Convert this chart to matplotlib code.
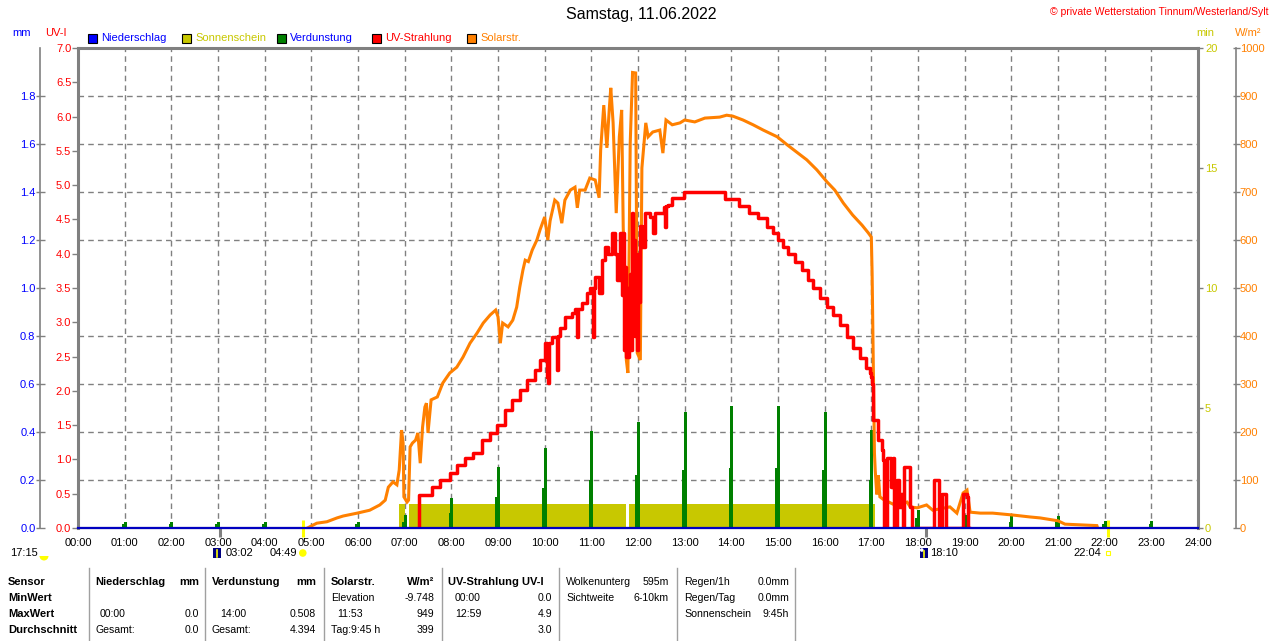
import matplotlib
matplotlib.use('Agg')
import matplotlib.pyplot as plt
import numpy as np
from matplotlib.patches import Rectangle, Circle, Wedge

plt.rcParams['font.family'] = ['Liberation Sans', 'DejaVu Sans']


def hrs(ts):
    return [int(t[:2]) + int(t[3:]) / 60.0 for t in ts]


# ---------------- data ----------------
hour_labels = ["%02d:00" % h for h in range(25)]

solar_time = ["04:55", "05:07", "05:20", "05:33", "05:41", "05:59", "06:15", "06:28", "06:35", "06:39",
              "06:45", "06:50", "06:53", "06:56", "06:58", "06:59", "07:03", "07:05", "07:07", "07:10",
              "07:14", "07:17", "07:20", "07:23", "07:26", "07:28", "07:30", "07:34", "07:42", "07:49",
              "07:58", "08:07", "08:15", "08:24", "08:33", "08:41", "08:50", "08:57", "09:00", "09:03",
              "09:06", "09:13", "09:19", "09:24", "09:28", "09:32", "09:35", "09:39", "09:44", "09:50",
              "09:54", "10:00", "10:04", "10:07", "10:13", "10:17", "10:22", "10:26", "10:33", "10:39",
              "10:42", "10:45", "10:52", "10:58", "11:05", "11:10", "11:12", "11:16", "11:20", "11:23",
              "11:25", "11:28", "11:32", "11:36", "11:39", "11:41", "11:43", "11:45", "11:47", "11:50",
              "11:53", "11:57", "11:59", "12:03", "12:05", "12:10", "12:13", "12:19", "12:28", "12:32",
              "12:36", "12:44", "12:54", "13:00", "13:13", "13:26", "13:45", "13:54", "14:02", "14:15",
              "14:28", "14:41", "14:59", "15:12", "15:24", "15:37", "15:50", "16:03", "16:13", "16:24",
              "16:36", "16:48", "16:56", "17:00", "17:01", "17:02", "17:04", "17:05", "17:07", "17:09",
              "17:11", "17:15", "17:30", "17:46", "17:50", "17:59", "18:11", "18:19", "18:41", "18:50",
              "18:58", "19:03", "19:07", "19:20", "19:36", "20:02", "20:24", "20:37", "21:00", "21:09",
              "21:50", "21:51"]
solar_wm2 = [0, 10, 13, 21, 25, 31, 37, 48, 58, 85,
             96, 90, 121, 204, 177, 65, 54, 58, 169, 177,
             183, 198, 135, 210, 252, 260, 198, 267, 273, 302,
             323, 335, 356, 385, 406, 427, 444, 454, 440, 385,
             427, 419, 433, 460, 502, 537, 558, 555, 579, 600,
             621, 648, 600, 640, 683, 677, 635, 683, 704, 710,
             667, 704, 704, 729, 725, 688, 788, 881, 792, 871,
             917, 844, 656, 815, 871, 627, 500, 350, 323, 802,
             949, 948, 365, 350, 750, 844, 815, 825, 829, 781,
             850, 840, 844, 850, 846, 854, 856, 860, 858, 850,
             840, 829, 815, 798, 783, 767, 746, 721, 704, 677,
             652, 631, 615, 606, 531, 400, 156, 120, 70, 110,
             65, 60, 48, 54, 44, 42, 48, 37, 44, 31,
             73, 79, 33, 31, 31, 27, 23, 21, 15, 8,
             5, 0]

uv_time = ["07:18", "07:19", "07:35", "07:45", "07:58", "08:07", "08:18", "08:28", "08:39", "08:50",
           "08:59", "09:09", "09:18", "09:28", "09:37", "09:48", "09:54", "10:00", "10:03", "10:04",
           "10:06", "10:09", "10:16", "10:17", "10:20", "10:26", "10:35", "10:39", "10:42", "10:43",
           "10:48", "10:54", "10:58", "11:02", "11:03", "11:05", "11:10", "11:14", "11:18", "11:21",
           "11:27", "11:30", "11:33", "11:37", "11:39", "11:41", "11:42", "11:43", "11:45", "11:46",
           "11:47", "11:48", "11:50", "11:51", "11:52", "11:54", "11:55", "11:56", "11:57", "11:59",
           "12:00", "12:01", "12:03", "12:05", "12:09", "12:15", "12:19", "12:22", "12:31", "12:33",
           "12:35", "12:36", "12:39", "12:44", "12:57", "12:59", "13:49", "13:52", "14:10", "14:23",
           "14:34", "14:46", "14:54", "15:00", "15:06", "15:13", "15:22", "15:31", "15:39", "15:45",
           "15:54", "16:03", "16:11", "16:20", "16:29", "16:36", "16:45", "16:53", "16:58", "17:00",
           "17:01", "17:02", "17:05", "17:09", "17:14", "17:15", "17:16", "17:20", "17:25", "17:28",
           "17:29", "17:33", "17:36", "17:38", "17:41", "17:42", "17:48", "17:50", "17:52", "18:21",
           "18:26", "18:27", "18:31", "18:35", "18:36", "18:58", "19:03", "19:04", "19:05"]
uv_index = [0.0, 0.48, 0.6, 0.7, 0.8, 0.92, 1.02, 1.09, 1.28, 1.39,
            1.5, 1.72, 1.87, 2.01, 2.16, 2.3, 2.45, 2.7, 2.2, 2.11,
            2.7, 2.79, 2.3, 2.8, 2.92, 3.08, 3.13, 3.2, 2.79, 3.2,
            3.28, 3.42, 3.5, 2.79, 3.5, 3.66, 3.42, 3.91, 4.1, 4.0,
            4.3, 4.0, 3.62, 4.3, 3.4, 4.3, 2.6, 3.8, 2.5, 3.5,
            2.5, 3.2, 3.7, 2.6, 4.6, 3.0, 4.2, 2.8, 3.8, 2.6,
            4.0, 3.3, 4.4, 4.1, 4.6, 4.54, 4.3, 4.6, 4.6, 4.68,
            4.39, 4.7, 4.71, 4.81, 4.81, 4.9, 4.9, 4.8, 4.7, 4.59,
            4.52, 4.39, 4.3, 4.2, 4.1, 4.0, 3.88, 3.76, 3.62, 3.5,
            3.35, 3.22, 3.11, 2.96, 2.79, 2.62, 2.48, 2.33, 2.26, 2.2,
            2.1, 1.58, 1.58, 1.28, 1.14, 0.99, 0.0, 1.02, 0.6, 1.02,
            0.0, 0.7, 0.3, 0.5, 0.0, 0.89, 0.89, 0.3, 0.0, 0.7,
            0.7, 0.0, 0.5, 0.5, 0.0, 0.5, 0.45, 0.0, 0.0]

evap_hour = list(range(1, 24))
evap_top = [0.026, 0.026, 0.026, 0.026, 0.0, 0.026, 0.054, 0.125, 0.254, 0.333, 0.404, 0.44,
            0.483, 0.508, 0.508, 0.483, 0.41, 0.075, 0.054, 0.05, 0.05, 0.03, 0.03]
evap_low = [0.016, 0.016, 0.016, 0.016, 0.0, 0.016, 0.025, 0.063, 0.13, 0.167, 0.2, 0.22,
            0.24, 0.25, 0.25, 0.24, 0.2, 0.04, 0.025, 0.025, 0.025, 0.016, 0.016]

sun_start = ["06:53", "07:06", "11:48"]
sun_end = ["07:00", "11:45", "17:05"]
sun_minutes = [1.0, 1.0, 1.0]

rain_time = ["00:00", "24:00"]
rain_mm = [0.0, 0.0]

mm_ticks = [0.0, 0.2, 0.4, 0.6, 0.8, 1.0, 1.2, 1.4, 1.6, 1.8]
uv_ticks = [0.0, 0.5, 1.0, 1.5, 2.0, 2.5, 3.0, 3.5, 4.0, 4.5, 5.0, 5.5, 6.0, 6.5, 7.0]
min_ticks = [0, 5, 10, 15, 20]
wm2_ticks = list(range(0, 1001, 100))

# ---------------- colours ----------------
C_BLUE = '#0000ff'
C_SUN = '#c8c800'
C_GREEN = '#008000'
C_RED = '#ff0000'
C_ORANGE = '#ff8000'
C_GRAY = '#808080'

W, H = 1280, 641
fig = plt.figure(figsize=(12.8, 6.41), dpi=100)
fig.patch.set_facecolor('white')
rect = [78 / W, (H - 528) / H, 1120 / W, 480 / H]
PX = 72.0 / 100.0  # points per pixel

# base axes: sunshine (min) + grid + frame
ax_sun = fig.add_axes(rect)
ax_sun.set_xlim(0, 24)
ax_sun.set_ylim(0, 20)
ax_sun.set_xticks(range(25))
ax_sun.set_xticklabels(hour_labels)
ax_sun.set_axisbelow(True)
ax_sun.grid(axis='x', which='major', color=C_GRAY, lw=1, ls=(0, (4, 3)))
ax_sun.tick_params(axis='x', length=0, pad=7, labelsize=8, labelcolor='black')
for s in ['top', 'left', 'right']:
    ax_sun.spines[s].set_color(C_GRAY)
    ax_sun.spines[s].set_linewidth(2.2)
ax_sun.spines['bottom'].set_color(C_GRAY)
ax_sun.spines['bottom'].set_linewidth(1.5)

s0 = np.array(hrs(sun_start))
s1 = np.array(hrs(sun_end))
ax_sun.bar(s0, sun_minutes, width=s1 - s0, align='edge', color=C_SUN, lw=0, zorder=2)


def clean(ax):
    for s in ax.spines.values():
        s.set_visible(False)


# evaporation (mm)
ax_mm = ax_sun.twinx()
clean(ax_mm)
ax_mm.set_ylim(0, 2.0)
ax_mm.yaxis.set_ticks_position('left')
ax_mm.yaxis.set_label_position('left')
ax_mm.spines['left'].set_visible(True)
ax_mm.spines['left'].set_position(('outward', 38 * PX))
ax_mm.spines['left'].set_color(C_GRAY)
ax_mm.spines['left'].set_linewidth(1.2)
ax_mm.set_yticks(mm_ticks)
ax_mm.set_yticklabels(["%.1f" % v for v in mm_ticks])
ax_mm.tick_params(axis='y', direction='inout', length=9 * PX, width=1, color=C_GRAY,
                  labelsize=8, labelcolor=C_BLUE, pad=0)
eh = np.array(evap_hour, dtype=float)
ax_mm.bar(eh - 0.01, evap_low, width=0.095, color=C_GREEN, lw=0)
ax_mm.bar(eh + 0.01, evap_top, width=0.06, color=C_GREEN, lw=0)

# solar radiation (W/m2)
ax_sol = ax_sun.twinx()
clean(ax_sol)
ax_sol.set_ylim(0, 1000)
ax_sol.spines['right'].set_visible(True)
ax_sol.spines['right'].set_position(('outward', 37.5 * PX))
ax_sol.spines['right'].set_color(C_GRAY)
ax_sol.spines['right'].set_linewidth(1.2)
ax_sol.set_yticks(wm2_ticks)
ax_sol.set_yticklabels([str(v) for v in wm2_ticks])
ax_sol.tick_params(axis='y', direction='inout', length=7 * PX, width=1, color=C_GRAY,
                   labelsize=8, labelcolor=C_ORANGE, pad=0.5)
ax_sol.plot(hrs(solar_time), solar_wm2, color=C_ORANGE, lw=2.2, solid_joinstyle='miter')

# UV index
ax_uv = ax_sun.twinx()
clean(ax_uv)
ax_uv.set_ylim(0, 7)
ax_uv.yaxis.set_ticks_position('left')
ax_uv.set_yticks(uv_ticks)
ax_uv.set_yticklabels(["%.1f" % v for v in uv_ticks])
ax_uv.tick_params(axis='y', direction='out', length=6 * PX, width=1, color=C_GRAY,
                  labelsize=8, labelcolor=C_RED, pad=0.5)
ax_uv.plot(hrs(uv_time), uv_index, color=C_RED, lw=2.5, drawstyle='steps-post')

# precipitation
ax_rain = ax_sun.twinx()
clean(ax_rain)
ax_rain.set_ylim(0, 2.0)
ax_rain.set_yticks([])
ax_rain.plot(hrs(rain_time), rain_mm, color='#0000c0', lw=1.6, clip_on=False)

# sunshine-minute axis ticks on the right (after twinx, which resets them)
ax_sun.yaxis.set_ticks_position('right')
ax_sun.yaxis.set_label_position('right')
ax_sun.set_yticks(min_ticks)
ax_sun.set_yticklabels([str(v) for v in min_ticks])
ax_sun.set_yticks(np.arange(2, 20, 2), minor=True)
ax_sun.grid(axis='y', which='minor', color=C_GRAY, lw=1, ls=(0, (4, 3)))
ax_sun.tick_params(axis='y', which='major', length=5 * PX, width=1, color=C_GRAY, pad=1.5,
                   labelsize=8, labelcolor=C_SUN, right=True, left=False,
                   labelright=True, labelleft=False)
ax_sun.tick_params(axis='y', which='minor', length=0, left=False, right=False)

# event markers below axis (moon / sun rise & set)
tr = ax_sun.get_xaxis_transform()
for t, col, top in [("03:02", C_GRAY, 0.0), ("18:10", C_GRAY, 0.0),
                    ("04:49", '#ffff00', 8 / 480), ("22:04", '#ffff00', 8 / 480)]:
    ax_sun.plot([hrs([t])[0]] * 2, [top, -9 / 480], transform=tr, color=col, lw=2.2,
                clip_on=False, zorder=5, solid_capstyle='butt')

# ---------------- overlay (pixel coordinates) ----------------
ov = fig.add_axes([0, 0, 1, 1], zorder=10)
ov.set_xlim(0, W)
ov.set_ylim(H, 0)
ov.axis('off')
ov.patch.set_visible(False)

ov.text(641, 15, "Samstag, 11.06.2022", ha='center', va='center', fontsize=11.5, color='black')
ov.text(1268, 12, "\u00a9 private Wetterstation Tinnum/Westerland/Sylt", ha='right', va='center',
        fontsize=7.5, color=C_RED)

ov.text(22, 33, "mm", ha='center', va='center', fontsize=8, color=C_BLUE)
ov.text(56, 33, "UV-I", ha='center', va='center', fontsize=8, color=C_RED)
ov.text(1205, 33, "min", ha='center', va='center', fontsize=8, color=C_SUN)
ov.text(1248, 33, "W/m\u00b2", ha='center', va='center', fontsize=8, color=C_ORANGE)

legend = [("Niederschlag", C_BLUE, C_BLUE, 88), ("Sonnenschein", C_SUN, C_SUN, 182),
          ("Verdunstung", C_GREEN, C_BLUE, 277), ("UV-Strahlung", C_RED, C_RED, 372),
          ("Solarstr.", C_ORANGE, C_ORANGE, 467)]
for name, fc, tc, x in legend:
    ov.add_patch(Rectangle((x, 33.5), 9, 9, fc=fc, ec='black', lw=0.8))
    ov.text(x + 13, 38, name, ha='left', va='center', fontsize=8, color=tc)


def hx(t):
    return 78 + hrs([t])[0] / 24.0 * 1120


# icons & times under the axis
ov.text(10, 553, "17:15", ha='left', va='center', fontsize=8, color='black')
ov.add_patch(Wedge((44, 556), 4.5, 0, 180, fc='#ffff00', ec='none'))
x = hx("03:02")
ov.add_patch(Rectangle((x - 7, 548), 8, 10, fc='#000080', ec='none'))
ov.plot([x - 3, x - 3], [557, 550], color='#ffff00', lw=1.2)
ov.text(x + 6, 553, "03:02", ha='left', va='center', fontsize=8, color='black')
x = hx("04:49")
ov.add_patch(Circle((x, 553), 3.8, fc='#ffff00', ec='none'))
ov.text(x - 6, 553, "04:49", ha='right', va='center', fontsize=8, color='black')
x = hx("18:10")
ov.add_patch(Rectangle((x - 6, 548), 8, 10, fc='#000080', ec='none'))
ov.add_patch(Circle((x - 4, 550), 1.8, fc='white', ec='none'))
ov.plot([x - 2, x - 2], [557, 551], color='#ffff00', lw=1.2)
ov.text(x + 4, 553, "18:10", ha='left', va='center', fontsize=8, color='black')
x = hx("22:04")
ov.add_patch(Rectangle((x - 2, 551), 4, 4, fc='none', ec='#ffff00', lw=0.8))
ov.text(x - 7, 553, "22:04", ha='right', va='center', fontsize=8, color='black')

# ---------------- bottom table ----------------
for sx in [89, 205, 324, 442, 559, 677, 795]:
    ov.plot([sx, sx], [568, 641], color='#a0a0a0', lw=1)

rows = [582, 598, 614, 630]


def T(x, r, s, bold=False, ha='left'):
    ov.text(x, rows[r], s, ha=ha, va='center', fontsize=8 if bold else 7.6,
            fontweight='bold' if bold else 'normal', color='black')


for i, s in enumerate(["Sensor", "MinWert", "MaxWert", "Durchschnitt"]):
    T(8, i, s, True)
T(95, 0, "Niederschlag", True); T(199, 0, "mm", True, 'right')
T(100, 2, "00:00"); T(199, 2, "0.0", ha='right')
T(95, 3, "Gesamt:"); T(199, 3, "0.0", ha='right')
T(212, 0, "Verdunstung", True); T(316, 0, "mm", True, 'right')
T(220, 2, "14:00"); T(316, 2, "0.508", ha='right')
T(212, 3, "Gesamt:"); T(316, 3, "4.394", ha='right')
T(331, 0, "Solarstr.", True); T(434, 0, "W/m\u00b2", True, 'right')
T(331, 1, "Elevation"); T(434, 1, "-9.748", ha='right')
T(337, 2, "11:53"); T(434, 2, "949", ha='right')
T(331, 3, "Tag:9:45 h"); T(434, 3, "399", ha='right')
T(448, 0, "UV-Strahlung UV-I", True)
T(455, 1, "00:00"); T(552, 1, "0.0", ha='right')
T(455, 2, "12:59"); T(552, 2, "4.9", ha='right')
T(552, 3, "3.0", ha='right')
T(566, 0, "Wolkenunterg"); T(669, 0, "595m", ha='right')
T(566, 1, "Sichtweite"); T(669, 1, "6-10km", ha='right')
T(684, 0, "Regen/1h"); T(789, 0, "0.0mm", ha='right')
T(684, 1, "Regen/Tag"); T(789, 1, "0.0mm", ha='right')
T(684, 2, "Sonnenschein"); T(789, 2, "9:45h", ha='right')

fig.savefig("out.png", dpi=100, facecolor='white')
